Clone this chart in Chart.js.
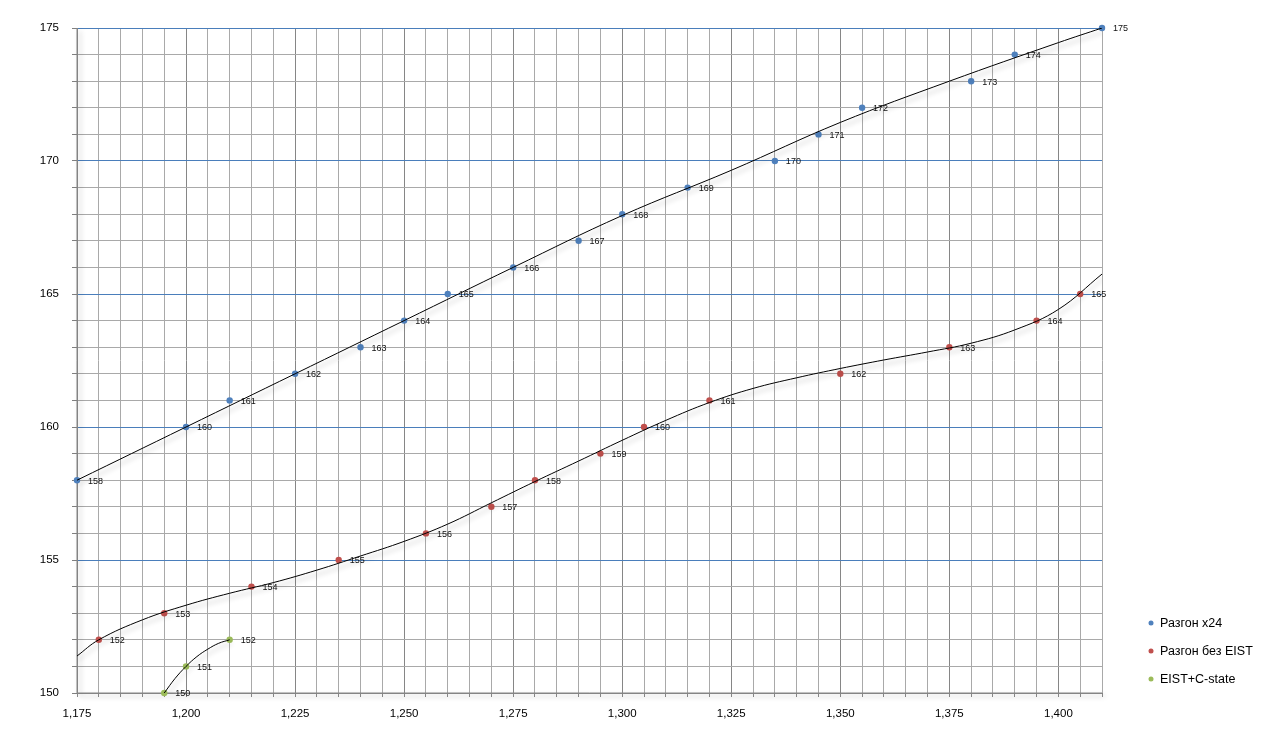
<!DOCTYPE html>
<html>
<head>
<meta charset="utf-8">
<script src="https://cdn.jsdelivr.net/npm/chart.js@4.4.1/dist/chart.umd.min.js"></script>
<style>
  html, body { margin: 0; padding: 0; background: #fff; }
  #wrap { width: 1277px; height: 740px; }
</style>
</head>
<body>
<div id="wrap"><canvas id="c" width="1277" height="740"></canvas></div>
<script>
// measured points
var x24X = [1.175, 1.200, 1.210, 1.225, 1.240, 1.250, 1.260, 1.275, 1.290, 1.300, 1.315, 1.335, 1.345, 1.355, 1.380, 1.390, 1.410];
var x24Y = [158, 160, 161, 162, 163, 164, 165, 166, 167, 168, 169, 170, 171, 172, 173, 174, 175];

var noEistX = [1.180, 1.195, 1.215, 1.235, 1.255, 1.270, 1.280, 1.295, 1.305, 1.320, 1.350, 1.375, 1.395, 1.405];
var noEistY = [152, 153, 154, 155, 156, 157, 158, 159, 160, 161, 162, 163, 164, 165];

var cstateX = [1.195, 1.200, 1.210];
var cstateY = [150, 151, 152];

// trendlines
var x24TrendX = [1.175, 1.200, 1.225, 1.250, 1.275, 1.300, 1.325, 1.350, 1.375, 1.400, 1.410];
var x24TrendY = [158.0, 160.0, 162.0, 164.0, 166.0, 167.95, 169.65, 171.45, 173.0, 174.45, 175.0];

var noEistTrendX = [1.175, 1.180, 1.190, 1.200, 1.210, 1.220, 1.230, 1.240, 1.250, 1.260, 1.270, 1.280, 1.290, 1.300, 1.310, 1.320, 1.330, 1.340, 1.350, 1.360, 1.370, 1.380, 1.390, 1.400, 1.410];
var noEistTrendY = [151.39, 152.0, 152.75, 153.3, 153.75, 154.15, 154.62, 155.15, 155.7, 156.35, 157.15, 157.95, 158.72, 159.5, 160.25, 160.92, 161.45, 161.85, 162.2, 162.52, 162.82, 163.15, 163.65, 164.42, 165.75];

var cstateTrendX = [1.195, 1.1975, 1.200, 1.2025, 1.205, 1.2075, 1.210];
var cstateTrendY = [150.0, 150.55, 151.0, 151.37, 151.65, 151.87, 152.0];

var seriesNames = ['Разгон x24', 'Разгон без EIST', 'EIST+C-state'];
var seriesColors = ['#4f81bd', '#c0504d', '#9bbb59'];

function pts(xs, ys) {
  return xs.map(function(x, i) { return { x: x, y: ys[i] }; });
}

function pointSet(i, xs, ys) {
  return {
    label: seriesNames[i], data: pts(xs, ys), showLine: false,
    backgroundColor: seriesColors[i], borderColor: seriesColors[i],
    pointRadius: 3.2, pointBorderWidth: 0, order: 2, isPoints: true, clip: 8
  };
}

function trendSet(xs, ys) {
  return {
    label: 'trend', data: pts(xs, ys), showLine: true,
    borderColor: '#000', borderWidth: 1, pointRadius: 0,
    tension: 0.4, order: 1, isTrend: true
  };
}

var fontFam = '"Liberation Sans", Arial, sans-serif';

function isMult(v, step) {
  var r = Math.round(v * 1000), s = Math.round(step * 1000);
  return r % s === 0;
}

var extras = {
  id: 'extras',
  beforeDatasetDraw: function(chart, args) {
    var ds = chart.data.datasets[args.index];
    if (!ds.isTrend) return;
    var ctx = chart.ctx;
    ctx.save();
    ctx.shadowColor = 'rgba(0,0,0,0.32)';
    ctx.shadowBlur = 5;
    ctx.shadowOffsetX = 2;
    ctx.shadowOffsetY = 4;
  },
  afterDatasetDraw: function(chart, args) {
    var ds = chart.data.datasets[args.index];
    if (ds.isTrend) chart.ctx.restore();
  },
  beforeDatasetsDraw: function(chart) {
    // soft shadow along the axes
    var a = chart.chartArea, ctx = chart.ctx;
    ctx.save();
    ctx.strokeStyle = '#868686';
    ctx.lineWidth = 1;
    ctx.shadowColor = 'rgba(0,0,0,0.3)';
    ctx.shadowBlur = 5;
    ctx.shadowOffsetX = 3;
    ctx.shadowOffsetY = 3;
    ctx.beginPath();
    ctx.moveTo(a.left, a.top);
    ctx.lineTo(a.left, a.bottom);
    ctx.lineTo(a.right, a.bottom);
    ctx.stroke();
    ctx.restore();
  },
  afterDatasetsDraw: function(chart) {
    var ctx = chart.ctx;
    ctx.save();
    ctx.font = '9px ' + fontFam;
    ctx.fillStyle = '#111';
    ctx.textBaseline = 'middle';
    ctx.textAlign = 'left';
    chart.data.datasets.forEach(function(ds, i) {
      if (!ds.isPoints) return;
      chart.getDatasetMeta(i).data.forEach(function(el, j) {
        ctx.fillText(String(ds.data[j].y), el.x + 11, el.y + 1);
      });
    });
    ctx.restore();
  },
  afterDraw: function(chart) {
    var ctx = chart.ctx;
    ctx.save();
    ctx.font = '12.5px ' + fontFam;
    ctx.textBaseline = 'middle';
    ctx.textAlign = 'left';
    var y0 = 623;
    chart.data.datasets.filter(function(d) { return d.isPoints; }).forEach(function(ds, i) {
      var y = y0 + i * 28;
      ctx.fillStyle = ds.backgroundColor;
      ctx.beginPath();
      ctx.arc(1151, y, 2.5, 0, Math.PI * 2);
      ctx.fill();
      ctx.fillStyle = '#000';
      ctx.fillText(ds.label, 1160, y + 1);
    });
    ctx.restore();
  }
};

new Chart(document.getElementById('c'), {
  type: 'scatter',
  data: {
    datasets: [
      trendSet(x24TrendX, x24TrendY),
      trendSet(noEistTrendX, noEistTrendY),
      trendSet(cstateTrendX, cstateTrendY),
      pointSet(0, x24X, x24Y),
      pointSet(1, noEistX, noEistY),
      pointSet(2, cstateX, cstateY)
    ]
  },
  options: {
    responsive: false, animation: false, events: [],
    layout: { padding: { top: 28, right: 175, bottom: 0, left: 0 } },
    plugins: { legend: { display: false }, tooltip: { enabled: false } },
    scales: {
      x: {
        type: 'linear', min: 1.175, max: 1.41,
        afterFit: function(s) { s.height = 47; },
        border: { color: '#868686' },
        grid: {
          tickLength: 4,
          color: function(c) { return isMult(c.tick.value, 0.025) ? '#868686' : '#a9a9a9'; },
          tickColor: '#8c8c8c'
        },
        ticks: {
          stepSize: 0.005, autoSkip: false, maxRotation: 0, padding: 10,
          color: '#000', font: { family: fontFam, size: 11.5 },
          callback: function(v) { return isMult(v, 0.025) ? v.toFixed(3).replace('.', ',') : ''; }
        }
      },
      y: {
        min: 150, max: 175,
        afterFit: function(s) { s.width = 77; },
        border: { color: '#868686' },
        grid: {
          tickLength: 5,
          color: function(c) {
            var v = Math.round(c.tick.value);
            if (v === 150) return '#868686';
            return v % 5 === 0 ? '#4a7ebb' : '#a9a9a9';
          },
          tickColor: '#808080'
        },
        ticks: {
          stepSize: 1, autoSkip: false, padding: 13,
          color: '#000', font: { family: fontFam, size: 11.5 },
          callback: function(v) { return v % 5 === 0 ? String(v) : ''; }
        }
      }
    }
  },
  plugins: [extras]
});
</script>
</body>
</html>
